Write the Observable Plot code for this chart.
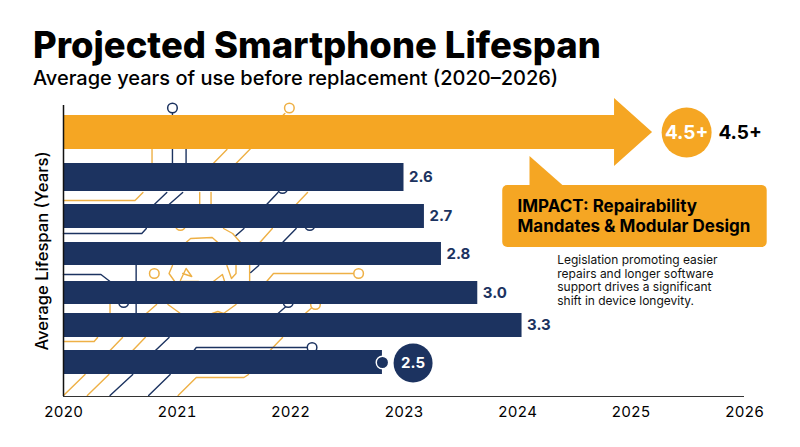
<!DOCTYPE html>
<html><head><meta charset="utf-8">
<script src="https://cdn.jsdelivr.net/npm/d3@7"></script>
<script src="https://cdn.jsdelivr.net/npm/@observablehq/plot@0.6"></script>
<style>
html,body{margin:0;padding:0;background:#fff;overflow:hidden}
#head{height:90px;position:relative;font-family:Inter,sans-serif;color:#000}
#t{position:absolute;left:33px;top:22px;font-size:36.4px;font-weight:800;line-height:46px;white-space:nowrap}
#s{position:absolute;left:33px;top:65px;font-size:20px;font-weight:500;line-height:26px;white-space:nowrap}
svg{display:block}
</style></head><body>
<div id="head"><div id="t">Projected Smartphone Lifespan</div><div id="s">Average years of use before replacement (2020–2026)</div></div>
<div id="c"></div>
<script>
const NAVY="#1c3360", GOLD="#f5a623", TRACE="#eeb045";
const FONT="Inter, sans-serif";
const xTicks=[2020,2021,2022,2023,2024,2025,2026];
const barLabels=["2.6","2.7","2.8","3.0","3.3","2.5"];
const barEnds=[2023.00,2023.18,2023.33,2023.65,2024.04,2022.81];
const barTops=[23.3,19.2,15.4,11.5,8.3,4.6];
const barBottoms=[20.5,16.8,13.1,9.2,5.9,2.2];
const arrowX=[2020,2024.855,2024.855,2025.19];
const arrowLow=[24.7,24.7,23.0,26.4];
const arrowHigh=[28.1,28.1,29.8,26.4];
const calloutBox=[{x1:2023.87,x2:2026.20,y1:14.9,y2:21.1}];
const calloutTipX=[2024.11,2024.41], calloutTipLow=[21.0,21.0], calloutTipHigh=[24.0,21.0];
const bodyLines=["Legislation promoting easier","repairs and longer software","support drives a significant","shift in device longevity."];
const bodyLevels=[13.66,12.28,10.9,9.52];
const goldTraces=[
 [[2021.95,28.3],[2021.52,23.3]],[[2021.44,24.7],[2021.32,23.3]],[[2020.78,24.7],[2020.78,23.3]],
 [[2020,19.6],[2020.63,19.6],[2020.70,20.4]],[[2021.20,19.2],[2021.20,20.4]],[[2021.30,19.2],[2021.30,20.4]],
 [[2022.05,19.2],[2022.15,20.4]],[[2021.73,15.4],[2021.84,16.8]],
 [[2021.08,15.4],[2021.12,15.8],[2021.31,15.9],[2021.36,15.4]],[[2021.41,16.8],[2021.49,16.3],[2021.56,15.4]],
 [[2020.96,13.1],[2020.93,12.3],[2020.98,11.5]],[[2021.03,11.6],[2021.08,12.8],[2021.13,12.0],[2021.05,12.3]],
 [[2021.04,11.5],[2021.19,11.5]],[[2021.32,11.5],[2021.40,12.2],[2021.42,11.5]],
 [[2021.44,13.1],[2021.48,11.8],[2021.52,12.3],[2021.52,13.1]],[[2021.64,13.1],[2021.64,11.5]],
 [[2021.79,11.5],[2021.85,12.3],[2022.60,12.3]],[[2020.41,9.2],[2020.41,8.3]],[[2020.73,8.3],[2020.82,9.2]],
 [[2020.92,9.2],[2021.03,8.3]],[[2021.41,8.3],[2021.52,9.2]],[[2021.31,8.3],[2021.36,8.5],[2021.41,8.3]],
 [[2022.13,8.3],[2022.22,9.2]],[[2020,5.5],[2020.27,5.5],[2020.30,5.9]],[[2020.41,4.6],[2020.52,5.9]],
 [[2020.61,4.6],[2020.72,5.9]],[[2021.82,4.6],[2021.93,5.9]],[[2020,0.1],[2020.19,2.2]],[[2020.21,0.1],[2020.40,2.2]],
 [[2021.01,0.1],[2021.17,1.9],[2021.59,1.9],[2021.63,2.2]]
];
const navyTraces=[
 [[2020.96,28.3],[2020.96,23.3]],[[2021.08,24.7],[2021.08,23.3]],[[2020.80,19.2],[2020.91,20.4]],[[2020.93,19.2],[2021.05,20.4]],
 [[2021.79,19.2],[2021.89,20.4]],[[2020,16.3],[2020.69,16.3],[2020.73,16.8]],[[2021.52,16.1],[2021.59,16.8]],
 [[2021.93,15.4],[2022.05,16.8]],[[2020,12.2],[2020.33,12.2],[2020.41,11.5]],[[2020.64,13.1],[2020.64,8.0]],
 [[2021.65,12.4],[2021.72,13.1]],[[2021.89,8.3],[2021.98,9.2]],[[2020.81,4.6],[2020.93,5.9]],
 [[2021.15,4.6],[2021.17,4.9],[2022.19,4.9]],[[2020.41,0.1],[2020.61,2.2]],[[2020.75,0.1],[2020.94,2.2]]
];
const goldNodes=[[2021.99,28.85],[2021.03,17.1],[2020.80,12.3],[2022.60,12.3],[2022.22,9.2]];
const navyNodes=[[2020.96,28.85],[2021.93,20.8],[2022.17,17.1],[2020.53,9.4],[2021.98,9.4],[2022.19,4.9]];

const bars=barLabels.map((label,i)=>({label,end:barEnds[i],top:barTops[i],bottom:barBottoms[i]}));
const flat=t=>t.flatMap((l,i)=>l.map(p=>({x:p[0],y:p[1],i})));
const arrow=arrowX.map((x,i)=>({x,low:arrowLow[i],high:arrowHigh[i]}));
const tip=calloutTipX.map((x,i)=>({x,low:calloutTipLow[i],high:calloutTipHigh[i]}));
const traceLine=(t,c)=>Plot.line(flat(t),{x:"x",y:"y",z:"i",stroke:c,strokeWidth:1.4,curve:"linear"});
const nodes=(n,c)=>Plot.dot(n,{x:d=>d[0],y:d=>d[1],r:4.8,stroke:c,strokeWidth:1.5,fill:"#fff"});

const chart=Plot.plot({
 width:800,height:357,marginLeft:63,marginRight:56,marginTop:6,marginBottom:51,
 style:{fontFamily:FONT,background:"#fff",overflow:"visible"},
 x:{domain:[2020,2026],label:null},
 y:{domain:[0,30],axis:null,label:null},
 marks:[
  traceLine(goldTraces,TRACE),traceLine(navyTraces,NAVY),
  nodes(goldNodes,TRACE),nodes(navyNodes,NAVY),
  Plot.areaY(arrow,{x:"x",y1:"low",y2:"high",fill:GOLD,curve:"linear"}),
  Plot.rect(bars,{x1:()=>2020,x2:"end",y1:"bottom",y2:"top",fill:NAVY}),
  Plot.text(bars.slice(0,5),{x:"end",y:d=>(d.top+d.bottom)/2,text:"label",dx:5,textAnchor:"start",fill:NAVY,fontWeight:700,fontSize:15}),
  Plot.dot([[2022.81,3.4]],{x:d=>d[0],y:d=>d[1],r:6.2,fill:NAVY,stroke:"#fff",strokeWidth:1.4}),
  Plot.dot([[2023.08,3.35]],{x:d=>d[0],y:d=>d[1],r:19.5,fill:NAVY}),
  Plot.text(["2.5"],{x:()=>2023.08,y:()=>3.35,fill:"#fff",fontWeight:700,fontSize:15}),
  Plot.dot([[2025.49,26.4]],{x:d=>d[0],y:d=>d[1],r:25,fill:GOLD}),
  Plot.text(["4.5+"],{x:()=>2025.49,y:()=>26.4,fill:"#fff",fontWeight:700,fontSize:19}),
  Plot.text(["4.5+"],{x:()=>2025.77,y:()=>26.4,textAnchor:"start",fill:"#000",fontWeight:700,fontSize:19}),
  Plot.areaY(tip,{x:"x",y1:"low",y2:"high",fill:GOLD,curve:"linear"}),
  Plot.rect(calloutBox,{x1:"x1",x2:"x2",y1:"y1",y2:"y2",fill:GOLD,rx:5}),
  Plot.text(["IMPACT: Repairability"],{x:()=>2024.0,y:()=>19.0,textAnchor:"start",fill:"#000",fontWeight:650,fontSize:17}),
  Plot.text(["Mandates & Modular Design"],{x:()=>2024.0,y:()=>17.0,textAnchor:"start",fill:"#000",fontWeight:650,fontSize:17}),
  Plot.text(bodyLines,{x:()=>2024.35,y:(d,i)=>bodyLevels[i],text:d=>d,textAnchor:"start",fill:"#111",fontSize:12}),
  Plot.ruleX([2020],{y1:0,y2:29.1,stroke:"#111",strokeWidth:1.5}),
  Plot.ruleY([0],{stroke:"#333",strokeWidth:1.2}),
  Plot.text(["Average Lifespan (Years)"],{x:()=>2019.82,y:()=>14.55,rotate:-90,fill:"#000",fontSize:16.6,fontWeight:500}),
  Plot.axisX({ticks:xTicks,tickFormat:d=>String(d),tickSize:0,tickPadding:10,fontSize:15,fill:"#000",label:null})
 ]
});
document.getElementById("c").appendChild(chart);
</script></body></html>
